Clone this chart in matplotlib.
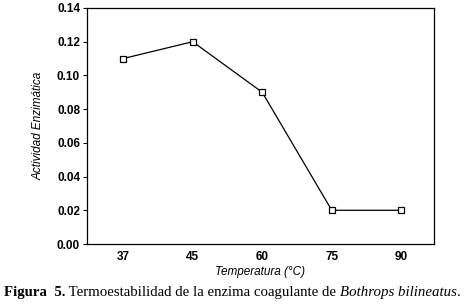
import matplotlib
matplotlib.use("Agg")
import matplotlib.pyplot as plt

temps = ["37", "45", "60", "75", "90"]
actividad = [0.11, 0.12, 0.09, 0.02, 0.02]
yticks = [0.00, 0.02, 0.04, 0.06, 0.08, 0.10, 0.12, 0.14]

plt.rcParams["font.family"] = ["Liberation Sans", "DejaVu Sans"]

fig = plt.figure(figsize=(4.71, 3.06), dpi=100)
ax = fig.add_axes([0.1847, 0.2026, 0.7367, 0.7713])

x = list(range(len(temps)))
ax.plot(x, actividad, color="black", linewidth=0.9, marker="s", markersize=4.5,
        markerfacecolor="white", markeredgecolor="black", markeredgewidth=0.9)

ax.set_xlim(-0.52, 4.47)
ax.set_ylim(0, 0.14)
ax.set_xticks(x)
ax.set_xticklabels(temps)
ax.set_yticks(yticks)
ax.set_yticklabels(["%.2f" % v for v in yticks])
ax.tick_params(axis="x", length=0, pad=5)
ax.tick_params(axis="y", length=3, width=0.8, pad=2)
for lab in ax.get_xticklabels() + ax.get_yticklabels():
    lab.set_fontweight("bold")
    lab.set_fontsize(8.5)
for s in ax.spines.values():
    s.set_linewidth(0.9)

ax.set_xlabel("Temperatura (°C)", fontstyle="italic", fontsize=8.5, labelpad=2)
ax.set_ylabel("Actividad Enzimática", fontstyle="italic", fontsize=8.5, labelpad=9)

# caption built piece by piece
pieces = [("Figura  5.", "bold", "normal"),
          (" Termoestabilidad de la enzima coagulante de ", "normal", "normal"),
          ("Bothrops bilineatus", "normal", "italic"),
          (".", "normal", "normal")]
fig.canvas.draw()
r = fig.canvas.get_renderer()
xpos = 4
for txt, w, st in pieces:
    t = fig.text(xpos / 471, 1 - 296 / 306, txt, fontsize=10.75, fontweight=w,
                 fontstyle=st, family="Liberation Serif", va="baseline")
    bb = t.get_window_extent(renderer=r)
    xpos = bb.x1

fig.savefig("out.png", dpi=100)
